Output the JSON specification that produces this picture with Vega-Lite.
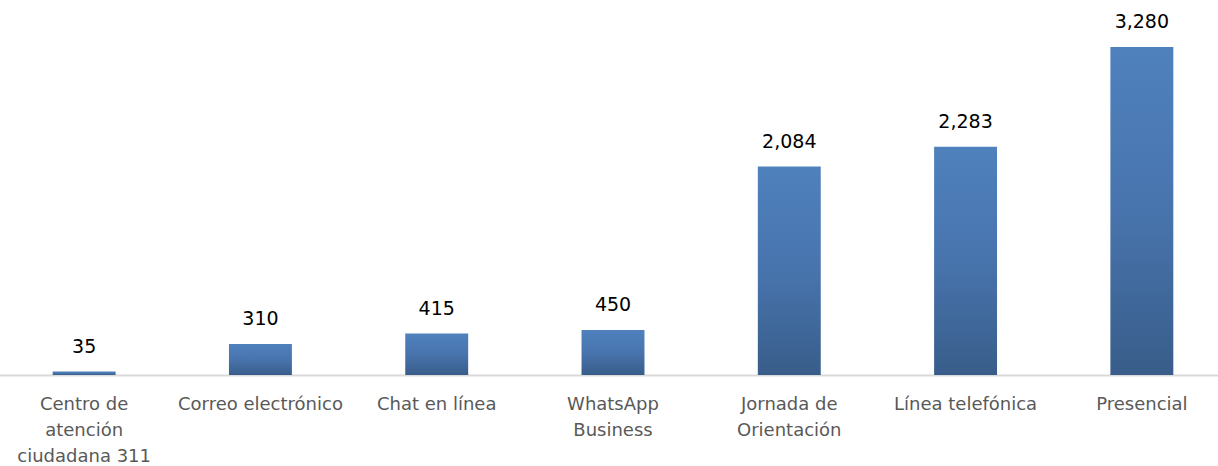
{
  "$schema": "https://vega.github.io/schema/vega-lite/v6.json",
  "width": 1218,
  "height": 375,
  "autosize": "none",
  "padding": {"left": 0, "top": 0, "right": 0, "bottom": 91},
  "background": "white",
  "config": {"view": {"stroke": null}},
  "data": {"values": [
    {"canal": "Centro de|atención|ciudadana 311", "valor": 35},
    {"canal": "Correo electrónico", "valor": 310},
    {"canal": "Chat en línea", "valor": 415},
    {"canal": "WhatsApp|Business", "valor": 450},
    {"canal": "Jornada de|Orientación", "valor": 2084},
    {"canal": "Línea telefónica", "valor": 2283},
    {"canal": "Presencial", "valor": 3280}
  ]},
  "encoding": {
    "x": {"field": "canal", "type": "nominal", "sort": null,
      "scale": {"range": [-4, 1230], "paddingInner": 0.643, "paddingOuter": 0.3215},
      "axis": {"title": null, "labelAngle": 0, "labelExpr": "split(datum.value, '|')",
        "labelFont": "DejaVu Sans", "labelFontSize": 18, "labelColor": "#595959", "labelLineHeight": 26,
        "labelPadding": 29, "labelOverlap": false, "labelBound": false,
        "ticks": false, "domainColor": "#d9d9d9", "domainWidth": 2, "labelBaseline": "middle"}},
    "y": {"field": "valor", "type": "quantitative", "scale": {"domain": [0, 3750]}, "axis": null}
  },
  "layer": [
    {"mark": {"type": "bar", "color": {"gradient": "linear", "x1": 0, "y1": 0, "x2": 0, "y2": 1,
      "stops": [{"offset": 0, "color": "#4f81bd"}, {"offset": 0.5, "color": "#4874ad"}, {"offset": 1, "color": "#385d8a"}]}}},
    {"mark": {"type": "text", "dy": -25, "font": "DejaVu Sans", "fontSize": 19, "color": "#000000", "baseline": "middle"},
      "encoding": {"text": {"field": "valor", "type": "quantitative", "format": ","}}}
  ]
}
